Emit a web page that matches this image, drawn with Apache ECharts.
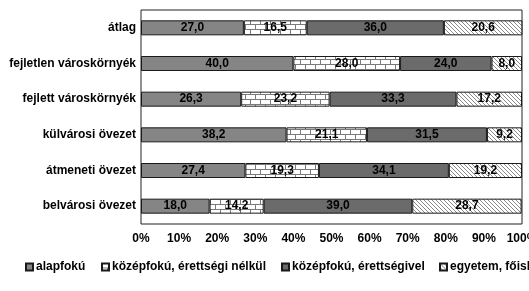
<!DOCTYPE html>
<html>
<head>
<meta charset="utf-8">
<script src="https://cdn.jsdelivr.net/npm/echarts@6/dist/echarts.min.js"></script>
<style>
  html, body { margin: 0; padding: 0; background: #fff; }
  #chart { width: 529px; height: 291px; }
</style>
</head>
<body>
<div id="chart"></div>
<script>
// Categories, top to bottom
const categories = [
    'átlag',
    'fejletlen városkörnyék',
    'fejlett városkörnyék',
    'külvárosi övezet',
    'átmeneti övezet',
    'belvárosi övezet'
];

const alapfoku = [27.0, 40.0, 26.3, 38.2, 27.4, 18.0];
const kozepNelkul = [16.5, 28.0, 23.2, 21.1, 19.3, 14.2];
const kozepVel = [36.0, 24.0, 33.3, 31.5, 34.1, 39.0];
const egyetem = [20.6, 8.0, 17.2, 9.2, 19.2, 28.7];

const seriesNames = [
    'alapfokú',
    'középfokú, érettségi nélkül',
    'középfokú, érettségivel',
    'egyetem, főiskola'
];

const xTicks = [0, 10, 20, 30, 40, 50, 60, 70, 80, 90, 100];

// Pattern fills
function brickPattern() {
    const c = document.createElement('canvas');
    c.width = 10; c.height = 10;
    const ctx = c.getContext('2d');
    ctx.fillStyle = '#fff';
    ctx.fillRect(0, 0, 10, 10);
    ctx.fillStyle = '#7a7a7a';
    ctx.fillRect(0, 4, 10, 1);
    ctx.fillRect(0, 9, 10, 1);
    ctx.fillRect(0, 0, 1, 4);
    ctx.fillRect(5, 5, 1, 4);
    return c;
}

function hatchPattern() {
    const c = document.createElement('canvas');
    c.width = 4; c.height = 4;
    const ctx = c.getContext('2d');
    ctx.fillStyle = '#fff';
    ctx.fillRect(0, 0, 4, 4);
    ctx.fillStyle = '#8a8a8a';
    for (let i = 0; i < 4; i++) {
        ctx.fillRect(i, i, 1, 1);
    }
    return c;
}

const fills = [
    '#858585',
    { image: brickPattern(), repeat: 'repeat' },
    '#6b6b6b',
    { image: hatchPattern(), repeat: 'repeat' }
];

const dataSets = [alapfoku, kozepNelkul, kozepVel, egyetem];

const font = 'Liberation Sans, Arial, sans-serif';

const chart = echarts.init(document.getElementById('chart'));

const series = seriesNames.map((name, i) => ({
    name: name,
    type: 'bar',
    stack: 'total',
    barWidth: 15,
    data: dataSets[i],
    itemStyle: {
        color: fills[i],
        borderColor: '#1a1a1a',
        borderWidth: 1
    },
    label: {
        show: true,
        position: 'inside',
        color: '#000',
        fontFamily: font,
        fontWeight: 'bold',
        fontSize: 12,
        formatter: p => p.value.toFixed(1).replace('.', ',')
    },
    emphasis: { disabled: true }
}));

// one legend per item so the row can run past the right edge like the original
const legendLefts = [25, 101, 281, 439];
const legends = seriesNames.map((name, i) => ({
    data: [name],
    left: legendLefts[i],
    top: 261,
    padding: 0,
    itemWidth: 7,
    itemHeight: 7,
    itemGap: 0,
    icon: 'rect',
    textStyle: {
        fontFamily: font,
        fontWeight: 'bold',
        fontSize: 12,
        color: '#000',
        padding: [0, 0, 0, -2]
    },
    selectedMode: false
}));

chart.setOption({
    animation: false,
    grid: {
        left: 141,
        right: 7,
        top: 10,
        bottom: 67,
        outerBoundsMode: 'none',
        containLabel: false,
        show: true,
        borderColor: '#222',
        borderWidth: 1,
        backgroundColor: 'transparent'
    },
    legend: legends,
    xAxis: {
        type: 'value',
        min: xTicks[0],
        max: xTicks[xTicks.length - 1],
        interval: 10,
        axisLine: { show: false },
        axisTick: { show: false },
        splitLine: { show: false },
        axisLabel: {
            margin: 9,
            color: '#000',
            fontFamily: font,
            fontWeight: 'bold',
            fontSize: 12,
            formatter: v => v + '%'
        }
    },
    yAxis: {
        type: 'category',
        data: categories,
        inverse: true,
        axisLine: { show: false },
        axisTick: { show: false },
        axisLabel: {
            margin: 5,
            color: '#000',
            fontFamily: font,
            fontWeight: 'bold',
            fontSize: 12
        }
    },
    series: series
});
</script>
</body>
</html>
